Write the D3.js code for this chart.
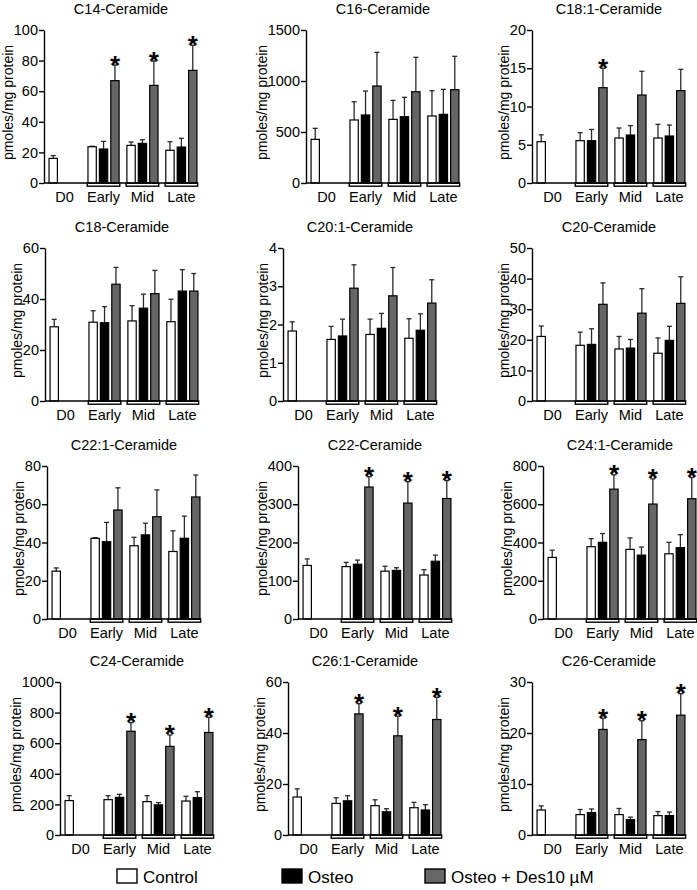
<!DOCTYPE html>
<html><head><meta charset="utf-8">
<script src="https://cdn.jsdelivr.net/npm/d3@7"></script>
<style>body{margin:0;background:#fff;} svg{display:block;font-family:"Liberation Sans",Arial,Helvetica,sans-serif;}</style>
</head><body><svg id="c" width="697" height="890"></svg>
<script>
// ---------- DATA ----------
const groups = ["D0", "Early", "Mid", "Late"];
const series = ["Control", "Osteo", "Osteo + Des10 µM"];
const titles = ["C14-Ceramide","C16-Ceramide","C18:1-Ceramide",
                "C18-Ceramide","C20:1-Ceramide","C20-Ceramide",
                "C22:1-Ceramide","C22-Ceramide","C24:1-Ceramide",
                "C24-Ceramide","C26:1-Ceramide","C26-Ceramide"];
const yLabel = "pmoles/mg protein";
const yMax  = [100, 1500, 20, 60, 4, 50, 80, 400, 800, 1000, 60, 30];
const yStep = [20, 500, 5, 20, 1, 10, 20, 100, 200, 200, 20, 10];
// Control: [D0, Early, Mid, Late]
const controlMean = [
  [16.1, 23.7, 24.6, 21.4], [428, 618, 624, 657], [5.4, 5.53, 5.88, 5.88],
  [29.1, 30.9, 31.4, 31.1], [1.83, 1.61, 1.74, 1.64], [21.1, 18.2, 17.0, 15.6],
  [25.0, 42.2, 38.3, 35.3], [140, 137, 125, 115], [322, 378, 364, 341],
  [225, 231, 218, 222], [14.9, 12.4, 11.5, 10.7], [4.9, 4.0, 4.0, 3.8]];
const controlErr = [
  [1.8, 0.3, 2.2, 5.6], [108, 179, 186, 248], [0.9, 1.05, 1.31, 1.79],
  [2.9, 4.5, 6.0, 8.8], [0.24, 0.34, 0.40, 0.51], [3.4, 4.3, 4.1, 5.0],
  [1.7, 0.3, 4.4, 10.8], [17, 11, 13, 14], [38, 42, 60, 60],
  [32, 26, 39, 31], [3.2, 2.2, 2.3, 2.1], [0.8, 1.0, 1.2, 0.8]];
// Osteo: [Early, Mid, Late]
const osteoMean = [
  [22.2, 25.9, 23.5], [667, 650, 673], [5.53, 6.27, 6.14],
  [30.7, 36.4, 43.1], [1.70, 1.90, 1.85], [18.5, 17.3, 19.8],
  [40.4, 44.0, 42.2], [143, 127, 151], [401, 334, 373],
  [246, 197, 244], [13.4, 9.1, 9.8], [4.4, 3.0, 3.8]];
const osteoErr = [
  [5.0, 2.4, 5.7], [235, 190, 245], [1.47, 1.23, 1.44],
  [6.3, 5.5, 8.4], [0.44, 0.39, 0.43], [5.1, 2.8, 4.6],
  [10.1, 6.1, 11.6], [11, 7, 16], [46, 42, 68],
  [20, 15, 39], [2.0, 1.2, 2.1], [0.7, 0.5, 0.7]];
// Osteo + Des10 µM: [Early, Mid, Late]
const desMean = [
  [66.9, 63.8, 73.6], [951, 895, 915], [12.46, 11.5, 12.07],
  [45.8, 42.1, 43.1], [2.95, 2.75, 2.56], [31.6, 28.7, 31.9],
  [57.0, 53.5, 63.8], [345, 303, 315], [679, 601, 629],
  [678, 579, 670], [47.5, 38.9, 45.3], [20.7, 18.7, 23.5]];
const desErr = [
  [10.2, 15.9, 16.4], [330, 337, 327], [2.54, 3.1, 2.79],
  [6.6, 9.1, 6.9], [0.61, 0.74, 0.61], [7.0, 8.0, 8.7],
  [11.6, 14.0, 11.5], [27, 56, 47], [75, 132, 111],
  [56, 75, 99], [4.0, 7.7, 8.7], [2.2, 3.7, 4.2]];
const significant = [
  [1,1,1],[0,0,0],[1,0,0],
  [0,0,0],[0,0,0],[0,0,0],
  [0,0,0],[1,1,1],[1,1,1],
  [1,1,1],[1,1,1],[1,1,1]];

// ---------- LAYOUT ----------
const axisX = [44, 306, 532, 45, 283, 532, 47, 298, 543, 60, 288, 532];
const rowTop = [30, 248, 466, 682];
const plotW = 154, plotH = 153;
const fills = {"Control": "#ffffff", "Osteo": "#000000", "Osteo + Des10 µM": "#666666"};

const svg = d3.select("#c");

titles.forEach((title, i) => {
  const g = svg.append("g")
    .attr("transform", `translate(${axisX[i]},${rowTop[Math.floor(i / 3)]})`);
  const y = d3.scaleLinear().domain([0, yMax[i]]).range([plotH, 0]);
  const x0 = d3.scaleBand().domain(groups).range([0, 158]).paddingInner(0.2).paddingOuter(0.13);
  const x1 = d3.scaleBand().domain(series).range([0, x0.bandwidth()]).paddingInner(0.27);

  const recs = [];
  groups.forEach((gn, gi) => {
    recs.push({g: gn, s: series[0], v: controlMean[i][gi], e: controlErr[i][gi], star: false});
    if (gi > 0) {
      recs.push({g: gn, s: series[1], v: osteoMean[i][gi - 1], e: osteoErr[i][gi - 1], star: false});
      recs.push({g: gn, s: series[2], v: desMean[i][gi - 1], e: desErr[i][gi - 1], star: !!significant[i][gi - 1]});
    }
  });

  // brackets under Early/Mid/Late
  g.selectAll("rect.br").data(groups.slice(1)).join("rect")
    .attr("class", "br")
    .attr("x", d => x0(d) - 0.7).attr("y", plotH)
    .attr("width", x0.bandwidth() + 1.4).attr("height", 3.2)
    .attr("fill", "#fff").attr("stroke", "#000").attr("stroke-width", 1.4);

  // error bars
  const eb = g.selectAll("g.eb").data(recs).join("g").attr("class", "eb")
    .attr("stroke", "#2a2a2a").attr("stroke-width", 1.3);
  eb.append("line")
    .attr("x1", d => x0(d.g) + x1(d.s) + x1.bandwidth() / 2)
    .attr("x2", d => x0(d.g) + x1(d.s) + x1.bandwidth() / 2)
    .attr("y1", d => y(d.v)).attr("y2", d => y(d.v + d.e));
  eb.append("line")
    .attr("x1", d => x0(d.g) + x1(d.s) + x1.bandwidth() / 2 - 2.5)
    .attr("x2", d => x0(d.g) + x1(d.s) + x1.bandwidth() / 2 + 2.5)
    .attr("y1", d => y(d.v + d.e)).attr("y2", d => y(d.v + d.e));

  // bars
  g.selectAll("rect.bar").data(recs).join("rect")
    .attr("class", "bar")
    .attr("x", d => x0(d.g) + x1(d.s))
    .attr("y", d => y(d.v))
    .attr("width", x1.bandwidth())
    .attr("height", d => plotH - y(d.v))
    .attr("fill", d => fills[d.s])
    .attr("stroke", "#000").attr("stroke-width", 1.2);

  // stars
  g.selectAll("text.star").data(recs.filter(d => d.star)).join("text")
    .attr("class", "star")
    .attr("x", d => x0(d.g) + x1(d.s) + x1.bandwidth() / 2)
    .attr("y", d => y(d.v + d.e) + 8.5)
    .attr("text-anchor", "middle")
    .attr("font-size", 26).attr("font-weight", "bold")
    .text("*");

  // baseline
  g.append("line").attr("x1", 0).attr("x2", plotW).attr("y1", plotH).attr("y2", plotH)
    .attr("stroke", "#000").attr("stroke-width", 1.4);

  // y axis
  const ya = g.append("g").call(
    d3.axisLeft(y).tickValues(d3.range(0, yMax[i] + yStep[i] / 2, yStep[i]))
      .tickSize(5).tickSizeOuter(0).tickPadding(1).tickFormat(d3.format("d")));
  ya.select(".domain").attr("stroke-width", 1.4);
  ya.selectAll(".tick line").attr("stroke-width", 1.4);
  ya.selectAll(".tick text").attr("font-size", 14.5).attr("fill", "#000")
    .attr("font-family", "Liberation Sans, Arial, sans-serif");
  let minX = 0;
  ya.selectAll(".tick text").each(function () {
    const b = this.getBBox();
    minX = Math.min(minX, b.x);
  });

  // y label
  g.append("text")
    .attr("transform", `translate(${minX - 0.5},${plotH / 2 - 4}) rotate(-90)`)
    .attr("text-anchor", "middle").attr("font-size", 14)
    .text(yLabel);

  // x labels
  g.selectAll("text.xl").data(groups).join("text")
    .attr("class", "xl")
    .attr("x", d => x0(d) + x0.bandwidth() / 2)
    .attr("y", plotH + 18.7)
    .attr("text-anchor", "middle").attr("font-size", 14.5)
    .text(d => d);

  // title
  g.append("text").attr("x", plotW / 2).attr("y", -16.5)
    .attr("text-anchor", "middle").attr("font-size", 14.5)
    .text(title);
});

// legend
const legX = [117, 282, 425];
const lg = svg.append("g");
series.forEach((s, k) => {
  lg.append("rect").attr("x", legX[k]).attr("y", 869).attr("width", 20).attr("height", 14)
    .attr("fill", fills[s]).attr("stroke", "#000").attr("stroke-width", 1.4);
  lg.append("text").attr("x", legX[k] + 26).attr("y", 883)
    .attr("font-size", 17).text(s);
});
</script>
</body></html>
